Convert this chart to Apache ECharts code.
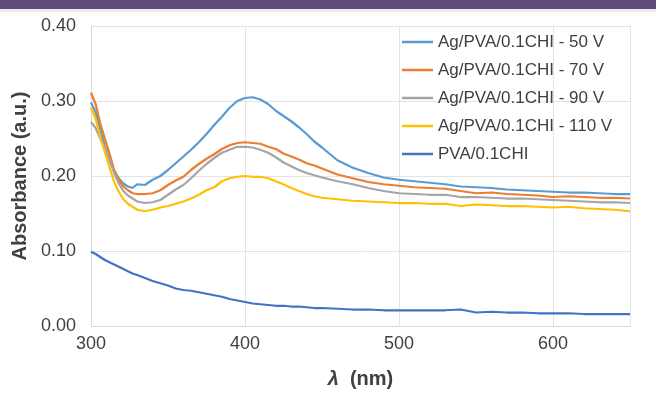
<!DOCTYPE html>
<html>
<head>
<meta charset="utf-8">
<script src="https://cdn.jsdelivr.net/npm/echarts@6/dist/echarts.min.js"></script>
<style>
  html, body { margin: 0; padding: 0; background: #fff; }
  #chart { width: 656px; height: 397px; }
</style>
</head>
<body>
<div id="chart"></div>
<script>
// wavelength (nm)
const wavelength = [300, 303, 306, 309, 312, 315, 318, 321, 324, 327, 330,
  335, 340, 345, 350, 355, 360, 365, 370, 375, 380, 385, 390, 395, 400, 405, 410, 415, 420, 425, 430, 435, 440, 445, 450,
  460, 470, 480, 490, 500, 510, 520, 530, 540, 550, 560, 570, 580, 590, 600, 610, 620, 630, 640, 650]

const ag50V = [0.298, 0.285, 0.262, 0.240, 0.222, 0.207, 0.197, 0.190, 0.186, 0.184, 0.189,
  0.188, 0.195, 0.200, 0.208, 0.217, 0.226, 0.235, 0.245, 0.256, 0.268, 0.279, 0.291, 0.300, 0.304, 0.305, 0.302, 0.296, 0.287, 0.280, 0.273, 0.265, 0.256, 0.246, 0.238,
  0.221, 0.211, 0.204, 0.198, 0.195, 0.193, 0.191, 0.189, 0.186, 0.185, 0.184, 0.182, 0.181, 0.180, 0.179, 0.178, 0.178, 0.177, 0.176, 0.176]

const ag70V = [0.311, 0.296, 0.270, 0.250, 0.230, 0.208, 0.195, 0.186, 0.181, 0.177, 0.176,
  0.176, 0.177, 0.181, 0.188, 0.194, 0.199, 0.208, 0.216, 0.223, 0.229, 0.236, 0.241, 0.244, 0.245, 0.244, 0.243, 0.239, 0.236, 0.230, 0.226, 0.222, 0.217, 0.214, 0.210,
  0.202, 0.197, 0.192, 0.189, 0.187, 0.185, 0.184, 0.183, 0.180, 0.177, 0.178, 0.176, 0.175, 0.174, 0.172, 0.173, 0.172, 0.171, 0.171, 0.170]

const ag90V = [0.272, 0.264, 0.250, 0.237, 0.222, 0.204, 0.190, 0.180, 0.174, 0.170, 0.166,
  0.164, 0.165, 0.168, 0.175, 0.182, 0.188, 0.197, 0.207, 0.216, 0.224, 0.231, 0.235, 0.239, 0.239, 0.238, 0.235, 0.231, 0.225, 0.218, 0.213, 0.208, 0.204, 0.201, 0.198,
  0.193, 0.189, 0.184, 0.180, 0.177, 0.176, 0.175, 0.175, 0.172, 0.172, 0.171, 0.170, 0.170, 0.169, 0.168, 0.167, 0.166, 0.165, 0.165, 0.164]

const ag110V = [0.292, 0.276, 0.252, 0.232, 0.212, 0.192, 0.179, 0.169, 0.163, 0.159, 0.155,
  0.153, 0.155, 0.158, 0.160, 0.163, 0.166, 0.170, 0.175, 0.181, 0.185, 0.193, 0.197, 0.199, 0.200, 0.199, 0.199, 0.197, 0.193, 0.189, 0.184, 0.180, 0.176, 0.173, 0.171,
  0.169, 0.167, 0.166, 0.165, 0.164, 0.164, 0.163, 0.163, 0.160, 0.162, 0.161, 0.160, 0.160, 0.159, 0.158, 0.159, 0.157, 0.156, 0.155, 0.153]

const pva = [0.099, 0.096, 0.092, 0.088, 0.085, 0.082, 0.079, 0.076, 0.073, 0.070, 0.068,
  0.064, 0.060, 0.057, 0.054, 0.050, 0.048, 0.047, 0.045, 0.043, 0.041, 0.039, 0.036, 0.034, 0.032, 0.030, 0.029, 0.028, 0.027, 0.027, 0.026, 0.026, 0.025, 0.024, 0.024,
  0.023, 0.022, 0.022, 0.021, 0.021, 0.021, 0.021, 0.021, 0.022, 0.018, 0.019, 0.018, 0.018, 0.017, 0.017, 0.017, 0.016, 0.016, 0.016, 0.016]

const seriesNames = ['Ag/PVA/0.1CHI - 50 V', 'Ag/PVA/0.1CHI - 70 V', 'Ag/PVA/0.1CHI - 90 V', 'Ag/PVA/0.1CHI - 110 V', 'PVA/0.1CHI']
const seriesColors = ['#5B9BD5', '#ED7D31', '#A5A5A5', '#FFC000', '#4472C4']
const seriesValues = [ag50V, ag70V, ag90V, ag110V, pva]

const font = '"Liberation Sans", Arial, sans-serif'
const textColor = '#404040'

const chart = echarts.init(document.getElementById('chart'))

const option = {
  animation: false,
  backgroundColor: '#fff',
  textStyle: {fontFamily: font},
  graphic: [
    {type: 'rect', left: 0, top: 0, shape: {width: 656, height: 9}, style: {fill: '#614A7A'}},
    {type: 'rect', left: 0, top: 9, shape: {width: 656, height: 3}, style: {fill: '#EBEBEB'}}
  ],
  grid: {left: 91, right: 26, top: 26, bottom: 71, containLabel: false},
  legend: {
    orient: 'vertical',
    left: 397,
    top: 28,
    icon: 'rect',
    itemWidth: 31,
    itemHeight: 2.5,
    itemGap: 10,
    textStyle: {fontSize: 17, color: textColor, fontFamily: font, lineHeight: 18},
    data: seriesNames
  },
  xAxis: {
    type: 'value',
    min: 300,
    max: 650,
    interval: 100,
    name: '{i|λ}  (nm)',
    nameLocation: 'middle',
    nameGap: 43,
    nameTextStyle: {
      fontSize: 20, fontWeight: 'bold', color: textColor, fontFamily: font,
      rich: {i: {fontSize: 20, fontWeight: 'bold', fontStyle: 'italic', color: textColor, fontFamily: font}}
    },
    axisLine: {lineStyle: {color: '#D9D9D9', width: 1}},
    axisTick: {show: false},
    axisLabel: {fontSize: 18, color: textColor, margin: 9, fontFamily: font, showMaxLabel: false},
    splitLine: {show: true, lineStyle: {color: '#E3E3E3', width: 1}}
  },
  yAxis: {
    type: 'value',
    min: 0,
    max: 0.4,
    interval: 0.1,
    name: 'Absorbance (a.u.)',
    nameLocation: 'middle',
    nameGap: 51,
    nameTextStyle: {fontSize: 20, fontWeight: 'bold', color: textColor, fontFamily: font},
    axisLine: {show: true, lineStyle: {color: '#D9D9D9', width: 1}},
    axisTick: {show: false},
    axisLabel: {fontSize: 18, color: textColor, margin: 15, fontFamily: font, formatter: (v) => v.toFixed(2)},
    splitLine: {show: true, lineStyle: {color: '#E3E3E3', width: 1}}
  },
  series: seriesNames.map((name, i) => ({
    name: name,
    type: 'line',
    symbol: 'none',
    color: seriesColors[i],
    lineStyle: {width: 2.25, color: seriesColors[i]},
    data: wavelength.map((w, j) => [w, seriesValues[i][j]])
  }))
}

chart.setOption(option)
</script>
</body>
</html>
